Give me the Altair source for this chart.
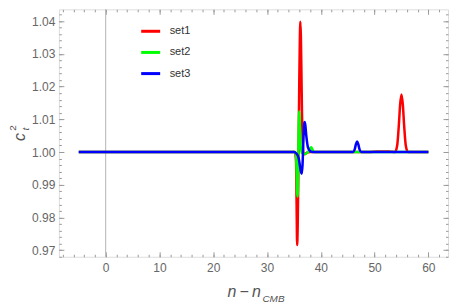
import altair as alt
import pandas as pd

# ---- data ----
x_set1 = [-5, 35.2, 35.4, 35.5, 35.6, 35.7, 35.8, 35.9, 36.0, 36.1, 36.2, 36.3, 36.4, 36.5, 36.6, 36.8,
          37.0, 37.4, 38.0, 49.0, 50.5, 52.0, 53.0, 53.8, 54.2, 54.5, 54.75, 55.0, 55.25, 55.5, 55.8,
          56.2, 57.0, 60]
y_set1 = [1.0, 1.0, 0.997, 0.984, 0.9716, 0.977, 0.99, 1.006, 1.022, 1.034, 1.0398, 1.035, 1.024,
          1.012, 1.004, 0.9995, 0.9993, 0.9998, 1.0, 1.0, 1.0002, 1.0002, 1.0001, 1.0, 1.002, 1.008,
          1.0145, 1.0176, 1.0145, 1.008, 1.002, 1.0, 1.0, 1.0]

x_set2 = [-5, 35.2, 35.4, 35.5, 35.6, 35.7, 35.8, 35.9, 36.0, 36.1, 36.25, 36.5, 37.0, 37.5, 37.9,
          38.2, 38.5, 38.8, 60]
y_set2 = [1.0, 1.0, 0.999, 0.994, 0.9875, 0.9864, 0.995, 1.008, 1.0124, 1.008, 1.002, 0.9997,
          0.9994, 0.9998, 1.0007, 1.0015, 1.0006, 1.0, 1.0]

x_set3 = [-5, 35.0, 35.5, 35.9, 36.1, 36.3, 36.45, 36.6, 36.75, 36.9, 37.0, 37.1, 37.3, 37.6, 38.0,
          38.5, 46.0, 46.3, 46.55, 46.75, 46.95, 47.2, 47.5, 60]
y_set3 = [1.0, 1.0, 0.9995, 0.998, 0.996, 0.994, 0.9934, 0.996, 1.003, 1.0085, 1.0092, 1.0085,
          1.005, 1.0015, 1.0003, 1.0, 1.0, 1.0008, 1.0025, 1.0032, 1.0025, 1.0008, 1.0, 1.0]

series_names = ["set1", "set2", "set3"]
series_colors = ["#ff0000", "#00ff00", "#0000ff"]

x_major = [0, 10, 20, 30, 40, 50, 60]
x_minor = list(range(-8, 64, 2))
y_major = [0.97, 0.98, 0.99, 1.00, 1.01, 1.02, 1.03, 1.04]
y_minor = [round(0.968 + 0.002 * i, 3) for i in range(38)]

x_domain = [-8.7, 63.65]
y_domain = [0.968, 1.0436]

# ---- build table ----
rows = []
for name, xs, ys in zip(series_names, [x_set1, x_set2, x_set3], [y_set1, y_set2, y_set3]):
    for i, (a, b) in enumerate(zip(xs, ys)):
        rows.append({"x": a, "y": b, "series": name, "i": i})
df = pd.DataFrame(rows)

W, H = 390, 248
FONT = "Liberation Sans"
FRAME = "#9a9a9a"
LABEL = "#666666"

xs = alt.Scale(domain=x_domain, nice=False, zero=False)
ys = alt.Scale(domain=y_domain, nice=False, zero=False)


def tick_layer(xorient, yorient, xv, yv, size):
    return alt.Chart(df).mark_point(opacity=0).encode(
        x=alt.X("x:Q", scale=xs, axis=alt.Axis(orient=xorient, values=xv, labels=False, title=None,
                                               domain=False, grid=False, tickSize=size, offset=-size,
                                               tickColor=FRAME, tickWidth=1)),
        y=alt.Y("y:Q", scale=ys, axis=alt.Axis(orient=yorient, values=yv, labels=False, title=None,
                                               domain=False, grid=False, tickSize=size, offset=-size,
                                               tickColor=FRAME, tickWidth=1)),
    )


zero_rule = alt.Chart(pd.DataFrame({"x": [0]})).mark_rule(color="#b4b4b4", strokeWidth=1).encode(
    x=alt.X("x:Q", scale=xs, axis=None)
)

lines = alt.Chart(df).mark_line(strokeWidth=2.5, interpolate="monotone").encode(
    x=alt.X("x:Q", scale=xs, axis=alt.Axis(orient="bottom", values=x_major, format="d", title=None,
                                           ticks=False, domain=False, grid=False, labelPadding=6,
                                           labelFontSize=12, labelColor=LABEL, labelFont=FONT)),
    y=alt.Y("y:Q", scale=ys, axis=alt.Axis(orient="left", values=y_major, format=".2f", title=None,
                                           ticks=False, domain=False, grid=False, labelPadding=4,
                                           labelFontSize=12, labelColor=LABEL, labelFont=FONT)),
    color=alt.Color("series:N", scale=alt.Scale(domain=series_names, range=series_colors),
                    legend=alt.Legend(orient="none", legendX=81, legendY=11, title=None,
                                      symbolType="stroke", symbolSize=361, symbolStrokeWidth=3,
                                      labelFontSize=11, labelOffset=8, rowPadding=4.2, padding=0,
                                      labelFont=FONT, labelColor="#333333")),
    order="i:Q",
)

one = alt.Data(values=[{}])


def label(txt, x, y, size, angle=0, align="center", baseline="middle", italic=True):
    return alt.Chart(one).mark_text(text=txt, fontSize=size, font=FONT, angle=angle, align=align,
                                    baseline=baseline, color="#555555",
                                    fontStyle="italic" if italic else "normal").encode(
        x=alt.value(x), y=alt.value(y))


titles = [
    label("n\u2009\u2212\u2009n", 169, H + 40, 16, align="left", baseline="alphabetic"),
    label("CMB", 204, H + 45, 10, align="left", baseline="alphabetic"),
    label("c", -39, 128, 16, angle=270),
    label("2", -46, 119, 10, angle=270, italic=False),
    label("t", -32.5, 120, 10, angle=270),
]

chart = alt.layer(
    zero_rule,
    tick_layer("bottom", "left", x_major, y_major, 5),
    tick_layer("bottom", "left", x_minor, y_minor, 2.5),
    tick_layer("top", "right", x_major, y_major, 5),
    tick_layer("top", "right", x_minor, y_minor, 2.5),
    lines,
    *titles,
).resolve_axis(x="independent", y="independent").properties(
    width=W, height=H,
    autosize=alt.AutoSizeParams(type="none"),
    padding={"left": 51, "top": 1, "right": 1, "bottom": 48},
).configure_view(stroke=FRAME, strokeWidth=1).configure(font=FONT)

chart.save("out.html", embed_options={"renderer": "svg", "actions": False})
